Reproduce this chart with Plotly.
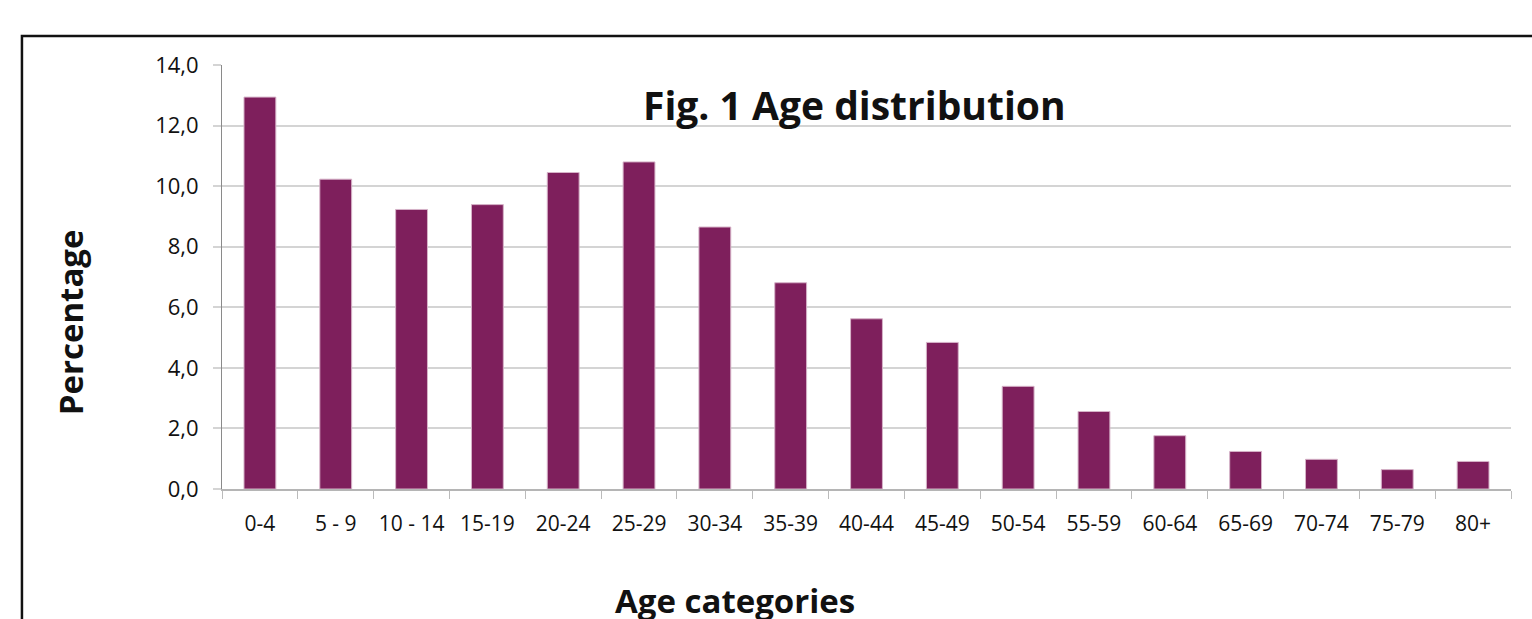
import plotly.graph_objects as go

# Age groups and the share of population (%) in each
age_groups = ["0-4", "5 - 9", "10 - 14", "15-19", "20-24", "25-29", "30-34",
              "35-39", "40-44", "45-49", "50-54", "55-59", "60-64", "65-69",
              "70-74", "75-79", "80+"]
percentages = [12.94, 10.23, 9.23, 9.39, 10.45, 10.80, 8.65,
               6.81, 5.62, 4.84, 3.39, 2.56, 1.76, 1.24,
               0.98, 0.64, 0.91]
y_ticks = [0, 2, 4, 6, 8, 10, 12, 14]

FONT = "Open Sans"
BAR = "#7e1f5c"

fig = go.Figure(go.Bar(
    x=age_groups,
    y=percentages,
    marker=dict(color=BAR, line=dict(color="#d6b3c8", width=1)),
    hoverinfo="x+y",
))

fig.update_layout(
    width=1532, height=619,
    margin=dict(l=222, r=21, t=65, b=130),
    paper_bgcolor="white", plot_bgcolor="white",
    separators=",.",
    showlegend=False,
    bargap=0.58,
    font=dict(family=FONT, color="#111111"),
)

fig.update_xaxes(
    type="category",
    tickson="boundaries",
    tickangle=0,
    ticks="outside", ticklen=8, tickcolor="#bbbbbb", tickwidth=1,
    showline=True, linecolor="#b5b5b5", linewidth=2,
    showgrid=False,
    tickfont=dict(family=FONT, size=21, color="#111111"),
    ticklabelstandoff=15,
)
fig.update_yaxes(
    range=[0, 14],
    tickvals=y_ticks, tickformat=".1f",
    ticks="outside", ticklen=8, tickcolor="#d4d4d4", tickwidth=2,
    showline=True, linecolor="#8a8a8a", linewidth=1,
    showgrid=True, gridcolor="#d4d4d4", gridwidth=2,
    zeroline=False,
    tickfont=dict(family=FONT, size=22, color="#111111"),
    ticklabelstandoff=10,
)

# Chart title inside the plot area
fig.add_annotation(
    text="<b>Fig. 1 Age distribution</b>",
    xref="paper", yref="paper", x=0.4905, y=0.908,
    showarrow=False, xanchor="center", yanchor="middle",
    font=dict(family=FONT, size=39, color="#111111"),
)
# Axis titles
fig.add_annotation(
    text="<b>Percentage</b>",
    xref="paper", yref="paper", x=-0.118, y=0.393,
    showarrow=False, textangle=-90, xanchor="center", yanchor="middle",
    font=dict(family=FONT, size=33, color="#111111"),
)
fig.add_annotation(
    text="<b>Age categories</b>",
    xref="paper", yref="paper", x=0.398, y=-0.262,
    showarrow=False, xanchor="center", yanchor="middle",
    font=dict(family=FONT, size=33, color="#111111"),
)

# Frame around the chart
fig.add_shape(
    type="rect", xref="paper", yref="paper",
    x0=-0.1552, x1=1.2, y0=-0.6, y1=1.0684,
    line=dict(color="#111111", width=2.5), fillcolor="rgba(0,0,0,0)",
    layer="above",
)

fig.write_html("out.html")
